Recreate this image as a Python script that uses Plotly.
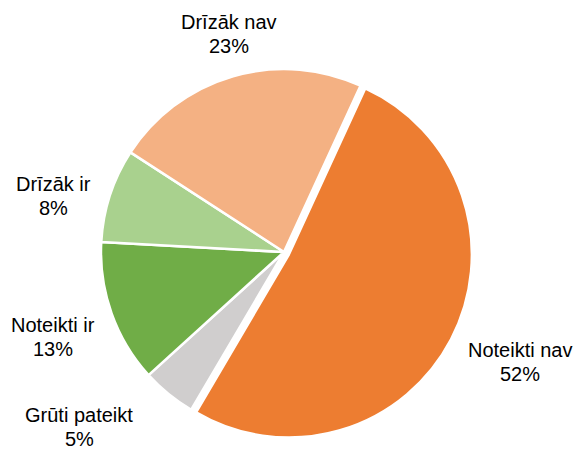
import plotly.graph_objects as go

labels = ["Noteikti nav", "Grūti pateikt", "Noteikti ir", "Drīzāk ir", "Drīzāk nav"]
values = [51.6, 4.8, 12.6, 8.3, 22.7]
colors = ["#ED7D31", "#D0CECE", "#70AD47", "#A9D18E", "#F4B183"]
pull = [0.03, 0, 0, 0, 0]

# label centres (pixels from top-left), placed like the original chart
label_px = [(520, 362), (79, 427), (53, 337), (53, 196), (229, 34)]

W, H = 576, 450
LINE = 24  # gap between the two label lines
total = sum(values)

fig = go.Figure(
    go.Pie(
        labels=labels,
        values=values,
        sort=False,
        direction="clockwise",
        rotation=24.7,
        pull=pull,
        marker=dict(colors=colors, line=dict(color="white", width=2.5)),
        textinfo="none",
        showlegend=False,
        hoverinfo="label+percent",
        domain=dict(x=[0.1658, 0.8203], y=[0.0211, 0.8589]),
        automargin=False,
    )
)

font = dict(family="Liberation Sans, Arial, sans-serif", size=20, color="#000000")
for lab, val, (px, py) in zip(labels, values, label_px):
    lines = [lab, f"{round(val / total * 100)}%"]
    for i, line in enumerate(lines):
        fig.add_annotation(
            text=line,
            x=px / W,
            y=1 - (py + (i - 0.5) * LINE) / H,
            xref="paper",
            yref="paper",
            xanchor="center",
            yanchor="middle",
            showarrow=False,
            font=font,
        )

fig.update_layout(
    width=W,
    height=H,
    margin=dict(l=0, r=0, t=0, b=0),
    paper_bgcolor="white",
)
# drop the default page margin so the figure sits at the window corner
fig.write_html(
    "out.html",
    config={"displayModeBar": False},
    post_script="document.body.style.margin='0';",
)
